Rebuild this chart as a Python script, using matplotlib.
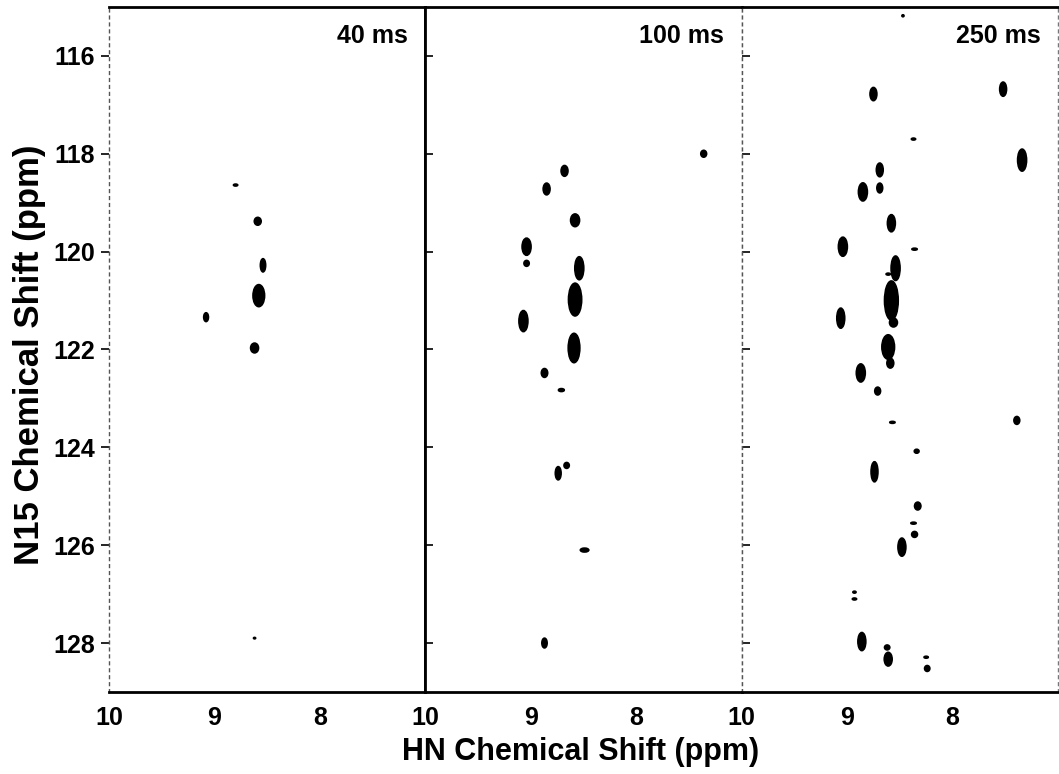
import matplotlib
matplotlib.use('Agg')
import matplotlib.pyplot as plt
from matplotlib.patches import Ellipse

plt.rcParams['font.family'] = ['Liberation Sans', 'DejaVu Sans']

# Mixing times
MIX_TIMES = ['40 ms', '100 ms', '250 ms']

# Peak centres (HN ppm, N15 ppm) and contour extents (ppm)
# 40 ms
hn_40 = [8.80, 8.59, 8.54, 8.58, 9.08, 8.62, 8.62]
n15_40 = [118.64, 119.38, 120.28, 120.90, 121.34, 121.97, 127.90]
dhn_40 = [0.04, 0.065, 0.05, 0.11, 0.045, 0.075, 0.02]
dn15_40 = [0.04, 0.16, 0.27, 0.45, 0.18, 0.20, 0.03]

# 100 ms
hn_100 = [7.36, 8.68, 8.85, 8.58, 9.04, 9.04, 8.54, 8.58, 9.07, 8.59,
          8.87, 8.71, 8.74, 8.66, 8.49, 8.87]
n15_100 = [118.00, 118.35, 118.72, 119.36, 119.90, 120.24, 120.34, 120.98, 121.42, 121.97,
           122.48, 122.83, 124.53, 124.37, 126.10, 128.00]
dhn_100 = [0.055, 0.065, 0.065, 0.085, 0.085, 0.05, 0.085, 0.125, 0.085, 0.11,
           0.06, 0.055, 0.055, 0.05, 0.08, 0.05]
dn15_100 = [0.14, 0.22, 0.24, 0.26, 0.35, 0.12, 0.47, 0.67, 0.43, 0.60,
            0.18, 0.06, 0.27, 0.12, 0.08, 0.20]

# 250 ms
hn_250 = [8.47, 8.75, 7.52, 8.37, 7.34, 8.69, 8.69, 8.85, 8.58, 9.04,
          8.36, 8.54, 8.61, 8.58, 8.56, 9.06, 8.61, 8.59, 8.87, 8.71,
          8.57, 8.34, 8.74, 8.33, 8.37, 8.36, 8.48, 8.93, 8.93, 8.86,
          8.62, 8.61, 8.25, 8.24, 7.39]
n15_250 = [115.18, 116.78, 116.68, 117.70, 118.13, 118.33, 118.70, 118.78, 119.42, 119.90,
           119.95, 120.34, 120.46, 121.00, 121.45, 121.36, 121.95, 122.28, 122.48, 122.85,
           123.49, 124.08, 124.50, 125.20, 125.55, 125.78, 126.04, 126.96, 127.10, 127.97,
           128.09, 128.33, 128.29, 128.52, 123.45]
dhn_250 = [0.02, 0.065, 0.065, 0.04, 0.085, 0.065, 0.055, 0.085, 0.075, 0.085,
           0.05, 0.085, 0.04, 0.13, 0.075, 0.075, 0.12, 0.065, 0.085, 0.055,
           0.05, 0.045, 0.065, 0.06, 0.05, 0.055, 0.075, 0.03, 0.04, 0.075,
           0.05, 0.075, 0.04, 0.05, 0.055]
dn15_250 = [0.04, 0.27, 0.29, 0.04, 0.45, 0.28, 0.20, 0.37, 0.35, 0.39,
            0.04, 0.50, 0.04, 0.80, 0.18, 0.41, 0.50, 0.20, 0.37, 0.16,
            0.04, 0.08, 0.41, 0.16, 0.04, 0.12, 0.37, 0.04, 0.04, 0.37,
            0.10, 0.28, 0.04, 0.12, 0.16]

peaks = [
    (hn_40, n15_40, dhn_40, dn15_40),
    (hn_100, n15_100, dhn_100, dn15_100),
    (hn_250, n15_250, dhn_250, dn15_250),
]

N15_TICKS = [116, 118, 120, 122, 124, 126, 128]
HN_TICKS = [10, 9, 8]

fig, axes = plt.subplots(1, 3, sharey=True, figsize=(10.59, 7.74), dpi=100)
fig.subplots_adjust(left=0.103, right=0.999, top=0.991, bottom=0.106, wspace=0)

for i, ax in enumerate(axes):
    hn, n15, dhn, dn15 = peaks[i]
    for x, y, w, h in zip(hn, n15, dhn, dn15):
        ax.add_patch(Ellipse((x, y), w, h, facecolor='black', edgecolor='black', lw=1.2))

    ax.set_xlim(10, 7)
    ax.set_ylim(129, 115)
    ax.set_xticks(HN_TICKS)
    ax.set_yticks(N15_TICKS)
    ax.tick_params(axis='x', length=0, labelsize=18, pad=10)
    ax.tick_params(axis='y', labelsize=18, length=6, width=1.2,
                   direction='out' if i == 0 else 'in', pad=4)
    for lbl in ax.get_xticklabels() + ax.get_yticklabels():
        lbl.set_fontweight('bold')

    ax.text(0.945, 0.975, MIX_TIMES[i], transform=ax.transAxes,
            ha='right', va='top', fontsize=18, fontweight='bold')

    ax.spines['top'].set_linewidth(2)
    ax.spines['bottom'].set_linewidth(2)
    ax.spines['left'].set_linewidth(1)
    ax.spines['right'].set_linewidth(1)
    ax.spines['left'].set_linestyle((0, (2, 3)))
    ax.spines['right'].set_linestyle((0, (2, 3)))
    ax.spines['left'].set_color('#555555')
    ax.spines['right'].set_color('#777777')

# solid divider between the first two panels
axes[0].spines['right'].set_linestyle('-')
axes[0].spines['right'].set_color('black')
axes[0].spines['right'].set_linewidth(2)
axes[1].spines['left'].set_linestyle('-')
axes[1].spines['left'].set_color('black')
axes[1].spines['left'].set_linewidth(2)

fig.text(581 / 1059, 1 - 752 / 774, 'HN Chemical Shift (ppm)',
         ha='center', va='center', fontsize=22, fontweight='bold')
fig.text(30 / 1059, 1 - 355 / 774, 'N15 Chemical Shift (ppm)', rotation=90,
         ha='center', va='center', fontsize=25, fontweight='bold')

plt.savefig('out.png', dpi=100)
